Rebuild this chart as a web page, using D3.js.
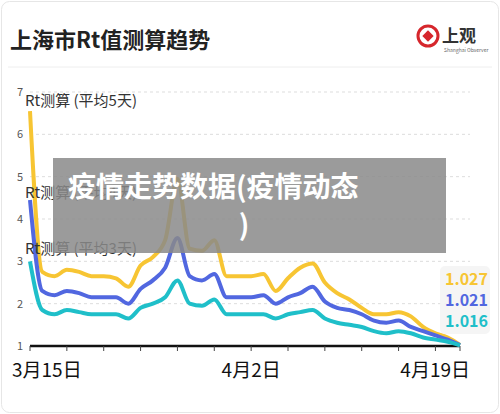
<!DOCTYPE html>
<html><head><meta charset="utf-8">
<script src="https://cdn.jsdelivr.net/npm/d3@7"></script>
<style>body{margin:0;background:#fff;font-family:"Noto Sans CJK SC","Noto Sans",sans-serif}</style>
</head><body><div id="graph"></div>
<script>
// days since 3月15日
var rt5 = [6.55,2.75,2.65,2.8,2.75,2.65,2.65,2.6,2.4,2.9,3.1,3.5,4.95,3.3,3.25,3.5,2.65,2.65,2.65,2.7,2.3,2.6,2.85,2.95,2.5,2.25,2.1,1.9,1.75,1.75,1.8,1.7,1.45,1.3,1.2,1.1,1.027];
var rt4 = [4.45,2.3,2.2,2.3,2.25,2.15,2.15,2.15,2.0,2.35,2.55,2.85,3.55,2.65,2.55,2.7,2.15,2.15,2.15,2.2,2.0,2.15,2.25,2.4,2.05,1.9,1.85,1.75,1.6,1.55,1.6,1.45,1.35,1.25,1.15,1.021];
var rt3 = [3.0,1.85,1.75,1.85,1.8,1.75,1.75,1.75,1.65,1.9,2.0,2.15,2.55,2.0,1.95,2.1,1.75,1.75,1.75,1.75,1.65,1.75,1.8,1.85,1.65,1.55,1.5,1.45,1.35,1.3,1.35,1.3,1.2,1.15,1.1,1.016];
rt5 = rt5.slice(0,35).concat([1.027]);
var yTicks = [1,2,3,4,5,6,7];
var xLabels = [{d:0,t:"3月15日",a:"start",dx:-18},{d:18,t:"4月2日",a:"middle",dx:0},{d:35,t:"4月19日",a:"end",dx:10}];
var series = [
  {name:"Rt测算 (平均5天)", v:rt5, c:"#f7c533", ly:100, last:"1.027"},
  {name:"Rt测算 (平均4天)", v:rt4, c:"#5167e0", ly:192, last:"1.021"},
  {name:"Rt测算 (平均3天)", v:rt3, c:"#1fbfc9", ly:248, last:"1.016"}
];

var vis = d3.select('#graph').append('svg').attr("width",500).attr("height",414);
vis.append("rect").attr("x",1.5).attr("y",1.5).attr("width",497).attr("height",411)
  .attr("rx",8).attr("fill","#fff").attr("stroke","#e6e6e6");
vis.append("text").attr("x",10).attr("y",48).attr("font-size",22).attr("font-weight","bold")
  .attr("fill","#222").text("上海市Rt值测算趋势");
vis.append("line").attr("x1",8).attr("x2",492).attr("y1",67).attr("y2",67).attr("stroke","#eee");
// logo
var lg = vis.append("g").attr("transform","translate(428,36)");
lg.append("circle").attr("r",10).attr("fill","none").attr("stroke","#d6262c").attr("stroke-width",3);
lg.append("rect").attr("x",-4).attr("y",-4).attr("width",8).attr("height",8).attr("fill","#d6262c").attr("transform","rotate(45)");
lg.append("text").attr("x",14).attr("y",6).attr("font-size",17).attr("font-weight","bold").attr("fill","#333").text("上观");
lg.append("text").attr("x",16).attr("y",16).attr("font-size",5).attr("fill","#666").text("Shanghai Observer");

var x = d3.scaleLinear().domain([0,35]).range([30,460]);
var y = d3.scaleLinear().domain([1,7]).range([346,92]);

yTicks.forEach(function(t){
  if (t>1) vis.append("line").attr("x1",30).attr("x2",470).attr("y1",y(t)).attr("y2",y(t))
    .attr("stroke","#ddd").attr("stroke-dasharray","3,3");
  vis.append("text").attr("x",20).attr("y",y(t)+4).attr("text-anchor","middle")
    .attr("font-size",11).attr("fill","#555").text(t);
});
vis.append("line").attr("x1",30).attr("x2",460).attr("y1",346).attr("y2",346).attr("stroke","#111").attr("stroke-width",2.5);
d3.range(0,36,3).concat([35]).forEach(function(d){
  vis.append("line").attr("x1",x(d)).attr("x2",x(d)).attr("y1",346).attr("y2",351).attr("stroke","#444");
});
xLabels.forEach(function(l){
  vis.append("text").attr("x",x(l.d)+l.dx).attr("y",377).attr("text-anchor",l.a)
    .attr("font-size",19).attr("fill","#111").text(l.t);
});

var line = d3.line().x(function(d,i){return x(i);}).y(function(d){return y(d);}).curve(d3.curveMonotoneX);
series.forEach(function(s){
  vis.append("path").datum(s.v).attr("d",line).attr("fill","none")
    .attr("stroke",s.c).attr("stroke-width",4).attr("stroke-linejoin","round");
  vis.append("text").attr("x",25).attr("y",s.ly+6).attr("font-size",15).attr("fill","#333").text(s.name);
});
vis.append("rect").attr("x",440).attr("y",266).attr("width",50).attr("height",68).attr("rx",5).attr("fill","#f4f4f4").attr("opacity",0.9);
series.forEach(function(s,i){
  vis.append("text").attr("x",488).attr("y",285+i*21).attr("text-anchor","end")
    .attr("font-size",16).attr("font-weight","bold").attr("fill",s.c).text(s.last);
});
// overlay banner
vis.append("rect").attr("x",53).attr("y",158).attr("width",393).attr("height",95).attr("fill","#8a8a8a").attr("opacity",0.85);
vis.append("text").attr("x",68).attr("y",197).attr("font-size",28)
  .attr("font-weight","bold").attr("fill","#fff").text("疫情走势数据(疫情动态");
vis.append("text").attr("x",244).attr("y",235).attr("text-anchor","middle").attr("font-size",28)
  .attr("font-weight","bold").attr("fill","#fff").text(")");
</script></body></html>
